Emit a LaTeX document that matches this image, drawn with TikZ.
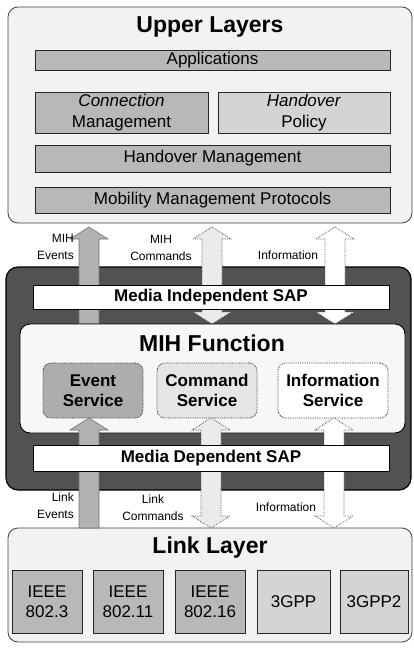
\documentclass[tikz,border=0pt]{standalone}
\usepackage{fontspec}
\setmainfont{Liberation Sans}
\usetikzlibrary{calc}
\pgfdeclarelayer{bgl}\pgfdeclarelayer{arrl}\pgfdeclarelayer{topl}
\pgfsetlayers{bgl,arrl,main,topl}
\def\aSW{10pt}\def\aHW{19pt}\def\aHL{12pt}
\newcommand\blkup[4]{\draw[#1] let \p3=(#2), \p1=(#3), \p2=(#4) in
 (\x3-\aSW,\y1) -- (\x3-\aSW,\y2-\aHL) -- (\x3-\aHW,\y2-\aHL) -- (\x3,\y2) -- (\x3+\aHW,\y2-\aHL) -- (\x3+\aSW,\y2-\aHL) -- (\x3+\aSW,\y1) -- cycle;}
\newcommand\blkdbl[4]{\draw[#1] let \p3=(#2), \p1=(#3), \p2=(#4) in
 (\x3-\aSW,\y1+\aHL) -- (\x3-\aHW,\y1+\aHL) -- (\x3,\y1) -- (\x3+\aHW,\y1+\aHL) -- (\x3+\aSW,\y1+\aHL) -- (\x3+\aSW,\y2-\aHL) -- (\x3+\aHW,\y2-\aHL) -- (\x3,\y2) -- (\x3-\aHW,\y2-\aHL) -- (\x3-\aSW,\y2-\aHL) -- cycle;}
\tikzset{
 base/.style={inner sep=0pt, outer sep=0pt, align=center, font=\fontsize{17}{20.5}\selectfont},
 layerbox/.style={base, draw=black!75, line width=0.8pt, fill=black!5, rounded corners=10pt},
 bar/.style={base, draw=black!85, line width=0.8pt, fill=black!28},
 lbar/.style={bar, fill=black!17},
 title/.style={inner sep=0pt, font=\fontsize{23}{26}\selectfont\bfseries},
 darkbox/.style={draw=black, line width=1.2pt, fill=black!68, rounded corners=12pt, inner sep=0pt},
 sapbar/.style={base, font=\fontsize{17}{20}\selectfont\bfseries, draw=black, line width=0.9pt, fill=white},
 mihbox/.style={base, draw=black, line width=0.9pt, fill=black!3, rounded corners=10pt},
 svc/.style={base, font=\fontsize{17}{20}\selectfont\bfseries, rounded corners=8pt, draw=black!80, densely dotted, line width=0.8pt},
 evsvc/.style={svc, fill=black!32},
 cmsvc/.style={svc, fill=black!10},
 ifsvc/.style={svc, fill=white},
 evarr/.style={fill=black!30, draw=black!55, line width=0.6pt},
 cmarr/.style={fill=black!8, draw=black!70, densely dotted, line width=0.7pt},
 ifarr/.style={fill=white, draw=black!70, densely dotted, line width=0.7pt},
 lbl/.style={inner sep=0pt, font=\fontsize{12}{17}\selectfont},
}
\begin{document}
\begin{tikzpicture}[x=1pt,y=-1pt]
\useasboundingbox (0,0) rectangle (414,650);
% Upper layers
\node[layerbox, minimum width=404, minimum height=216] (up) at (210,115) {};
\node[title] (upt) at (210,27) {Upper Layers};
\node[bar, minimum width=355, minimum height=20] (apps) at (212.5,60) {Applications};
\node[bar, minimum width=173, minimum height=41] (conn) at (121.5,112.5) {\textit{Connection}\\Management};
\node[lbar, minimum width=172, minimum height=41] (hpol) at (304,112.5) {\textit{Handover}\\Policy};
\node[bar, minimum width=355, minimum height=27] (hmgmt) at (212.5,158.5) {Handover Management};
\node[bar, minimum width=355, minimum height=26] (mob) at (212.5,200) {Mobility Management Protocols};
% MIH dark frame
\begin{pgfonlayer}{bgl}
\node[darkbox, minimum width=405, minimum height=223] (mih) at (208.5,378.5) {};
\end{pgfonlayer}
\begin{pgfonlayer}{topl}
\node[sapbar, minimum width=356, minimum height=24] (misap) at (211,297.5) {Media Independent SAP};
\node[sapbar, minimum width=356, minimum height=26] (mdsap) at (211,458) {Media Dependent SAP};
\end{pgfonlayer}
\node[mihbox, minimum width=385, minimum height=109] (mihf) at (212.5,378.5) {};
\node[title] (mihft) at (212,343) {MIH Function};
\node[evsvc, minimum width=100, minimum height=55] (evs) at (93,390.5) {Event\\Service};
\node[cmsvc, minimum width=100, minimum height=55] (cms) at (207,390.5) {Command\\Service};
\node[ifsvc, minimum width=110, minimum height=55] (ifs) at (333,390.5) {Information\\Service};
% Link layer
\node[layerbox, minimum width=404, minimum height=114] (link) at (210,585) {};
\node[title] (linkt) at (210,548) {Link Layer};
\node[bar, minimum width=70, minimum height=63] (t1) at (47,601.5) {IEEE\\802.3};
\node[bar, minimum width=70, minimum height=63] (t2) at (128,601.5) {IEEE\\802.11};
\node[bar, minimum width=70, minimum height=63] (t3) at (210,601.5) {IEEE\\802.16};
\node[lbar, minimum width=73, minimum height=63] (t4) at (293.5,601.5) {3GPP};
\node[lbar, minimum width=68, minimum height=63] (t5) at (374,601.5) {3GPP2};
% upper arrows
\begin{pgfonlayer}{arrl}
\blkup{evarr}{$(evs.north)+(-4,0)$}{mihf.north}{$(up.south)+(0,4)$}
\blkdbl{cmarr}{$(cms.north)+(5,0)$}{mihf.north}{$(up.south)+(0,4)$}
\blkdbl{ifarr}{$(ifs.north)+(2,0)$}{mihf.north}{$(up.south)+(0,4)$}
\end{pgfonlayer}
% lower arrows
\blkup{evarr}{$(evs.south)+(-4,0)$}{link.north}{evs.south}
\blkdbl{cmarr}{$(cms.south)+(4,0)$}{link.north}{cms.south}
\blkdbl{ifarr}{$(ifs.south)+(1,0)$}{link.north}{ifs.south}
% labels
\node[lbl, anchor=east, align=right] (l1) at (74,247) {MIH\\Events};
\node[lbl, align=center] (l2) at (161,248) {MIH\\Commands};
\node[lbl] (l3) at (288,255) {Information};
\node[lbl, anchor=east, align=right] (l4) at (74,506) {Link\\Events};
\node[lbl, align=center] (l5) at (153,508) {Link\\Commands};
\node[lbl] (l6) at (286,507) {Information};
\end{tikzpicture}
\end{document}
